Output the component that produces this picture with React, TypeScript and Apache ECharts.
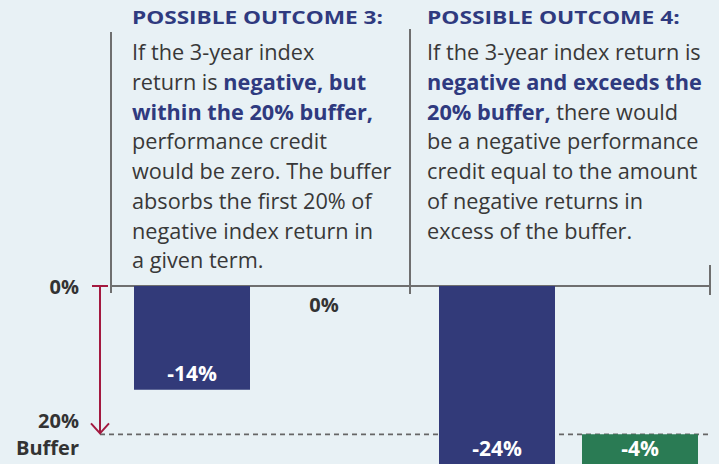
import React, { useEffect, useRef } from 'react';
import * as echarts from 'echarts';

// ---- data ----
const categories = ['3-year index return', 'Performance credit'];
const outcome3 = [-14, 0];
const outcome4 = [-24, -4];
const bufferLimit = -20;
const yMin = -24;
const yMax = 0;
const yInterval = 4;
const axisTickLabels: Record<string, string> = { '0': '0%', '-20': '20%\nBuffer' };
const titles = ['POSSIBLE OUTCOME 3:', 'POSSIBLE OUTCOME 4:'];
const body3 =
  'If the 3-year index\nreturn is {b|negative, but}\n{b|within the 20% buffer,}\nperformance credit\nwould be zero. The buffer\nabsorbs the first 20% of\nnegative index return in\na given term.';
const body4 =
  'If the 3-year index return is\n{b|negative and exceeds the}\n{b|20% buffer,} there would\nbe a negative performance\ncredit equal to the amount\nof negative returns in\nexcess of the buffer.';

// ---- styles ----
const BG = '#e8f1f5';
const NAVY = '#323a79';
const NAVY_TEXT = '#2f3a7f';
const GREEN = '#2a7b54';
const RED = '#a3193f';
const GRAY = '#6f6f6f';
const TEXT = '#383838';
const FONT = '"Open Sans"';

function measure(text: string, font: string) {
  const c = document.createElement('canvas').getContext('2d');
  if (!c) return 200;
  c.font = font;
  return c.measureText(text).width;
}

export default function App() {
  const ref = useRef<HTMLDivElement>(null);
  useEffect(() => {
    if (!ref.current) return;
    const chart = echarts.init(ref.current, null, { renderer: 'svg' });
    const pct = (p: any) => `${p.value}%`;
    const barLabel = {
      show: true,
      position: 'insideBottom',
      distance: 6,
      formatter: pct,
      color: '#ffffff',
      fontWeight: 'bold',
      fontSize: 21,
      fontFamily: FONT,
    };
    const yHidden = (gridIndex: number) => ({
      type: 'value',
      gridIndex,
      min: yMin,
      max: yMax,
      interval: yInterval,
      show: false,
    });
    const xCat = (gridIndex: number) => ({
      type: 'category',
      gridIndex,
      data: categories,
      show: false,
    });
    chart.setOption({
      animation: false,
      backgroundColor: BG,
      textStyle: { fontFamily: FONT },
      grid: [
        { left: 100, right: 7, top: 286, bottom: 0 },
        { left: 126, width: 264, top: 286, bottom: 0 },
        { left: 425.5, width: 286, top: 286, bottom: 0 },
      ],
      xAxis: [
        { type: 'value', gridIndex: 0, min: 0, max: 1, show: false },
        xCat(1),
        xCat(2),
      ],
      yAxis: [
        {
          type: 'value',
          gridIndex: 0,
          min: yMin,
          max: yMax,
          interval: yInterval,
          axisLine: { show: false },
          axisTick: { show: false },
          splitLine: { show: false },
          axisLabel: {
            show: true,
            margin: 21,
            align: 'right',
            formatter: (v: number) => axisTickLabels[String(v)] || '',
            color: '#333333',
            fontWeight: 'bold',
            fontSize: 20,
            fontFamily: FONT,
            lineHeight: 27,
          },
        },
        yHidden(1),
        yHidden(2),
      ],
      series: [
        { type: 'scatter', xAxisIndex: 0, yAxisIndex: 0, data: [], silent: true },
        {
          type: 'bar',
          name: 'Outcome 3',
          xAxisIndex: 1,
          yAxisIndex: 1,
          barWidth: 116,
          data: [
            { value: outcome3[0], itemStyle: { color: NAVY }, label: barLabel },
            {
              value: outcome3[1],
              itemStyle: { color: NAVY },
              label: { ...barLabel, fontSize: 20, position: 'bottom', distance: 8, color: '#333333' },
            },
          ],
        },
        {
          type: 'bar',
          name: 'base',
          xAxisIndex: 2,
          yAxisIndex: 2,
          stack: 'o4',
          barWidth: 116,
          silent: true,
          itemStyle: { color: 'transparent' },
          data: [0, outcome4[1] < 0 ? bufferLimit : 0],
        },
        {
          type: 'bar',
          name: 'Outcome 4',
          xAxisIndex: 2,
          yAxisIndex: 2,
          stack: 'o4',
          barWidth: 116,
          data: [
            { value: outcome4[0], itemStyle: { color: NAVY }, label: barLabel },
            { value: outcome4[1], itemStyle: { color: GREEN }, label: barLabel },
          ],
        },
      ],
    });

    const y0 = chart.convertToPixel({ yAxisIndex: 0 }, 0) as number;
    const yb = chart.convertToPixel({ yAxisIndex: 0 }, bufferLimit) as number;
    const titleFont = `bold 17px ${FONT}`;
    const sx0 = 251 / measure(titles[0], titleFont);
    const sx1 = 253 / measure(titles[1], titleFont);
    const bodySize = Math.round((20 * 260) / measure('would be zero. The buffer', `20px ${FONT}`) * 10) / 10;
    const lineStyle = { stroke: GRAY, lineWidth: 2 };
    const bodyStyle = (text: string, x: number) => ({
      type: 'text',
      x,
      y: 37,
      style: {
        text,
        fill: TEXT,
        fontSize: bodySize,
        fontFamily: FONT,
        lineHeight: 29.7,
        verticalAlign: 'top',
        rich: {
          b: {
            fill: NAVY_TEXT,
            fontWeight: 'bold',
            fontSize: bodySize,
            fontFamily: FONT,
            lineHeight: 29.7,
          },
        },
      },
    });
    chart.setOption({
      graphic: [
        { type: 'line', shape: { x1: 110, y1: y0, x2: 710, y2: y0 }, style: lineStyle },
        {
          type: 'line',
          shape: { x1: 100, y1: yb, x2: 712, y2: yb },
          style: { stroke: '#666666', lineWidth: 1.6, lineDash: [5, 4] },
        },
        { type: 'line', shape: { x1: 111, y1: 32, x2: 111, y2: y0 + 7 }, style: lineStyle },
        { type: 'line', shape: { x1: 410, y1: 29, x2: 410, y2: y0 + 8 }, style: lineStyle },
        { type: 'line', shape: { x1: 710, y1: y0 - 21, x2: 710, y2: y0 + 9 }, style: lineStyle },
        { type: 'line', shape: { x1: 100, y1: y0, x2: 100, y2: yb - 1 }, style: { stroke: RED, lineWidth: 2 } },
        { type: 'line', shape: { x1: 92, y1: y0, x2: 108, y2: y0 }, style: { stroke: RED, lineWidth: 2 } },
        {
          type: 'polyline',
          shape: { points: [[91, yb - 11], [100, yb - 1], [109, yb - 11]] },
          style: { stroke: RED, lineWidth: 2, fill: 'none' },
        },
        {
          type: 'text',
          x: 132,
          y: 18,
          scaleX: sx0,
          style: { text: titles[0], fill: NAVY_TEXT, fontSize: 17, fontWeight: 'bold', fontFamily: FONT, verticalAlign: 'middle' },
        },
        {
          type: 'text',
          x: 427,
          y: 18,
          scaleX: sx1,
          style: { text: titles[1], fill: NAVY_TEXT, fontSize: 17, fontWeight: 'bold', fontFamily: FONT, verticalAlign: 'middle' },
        },
        bodyStyle(body3, 132),
        bodyStyle(body4, 427),
      ],
    });
    return () => chart.dispose();
  }, []);
  return (
    <div
      ref={ref}
      style={{ position: 'fixed', left: 0, top: 0, width: 719, height: 464 }}
    />
  );
}
